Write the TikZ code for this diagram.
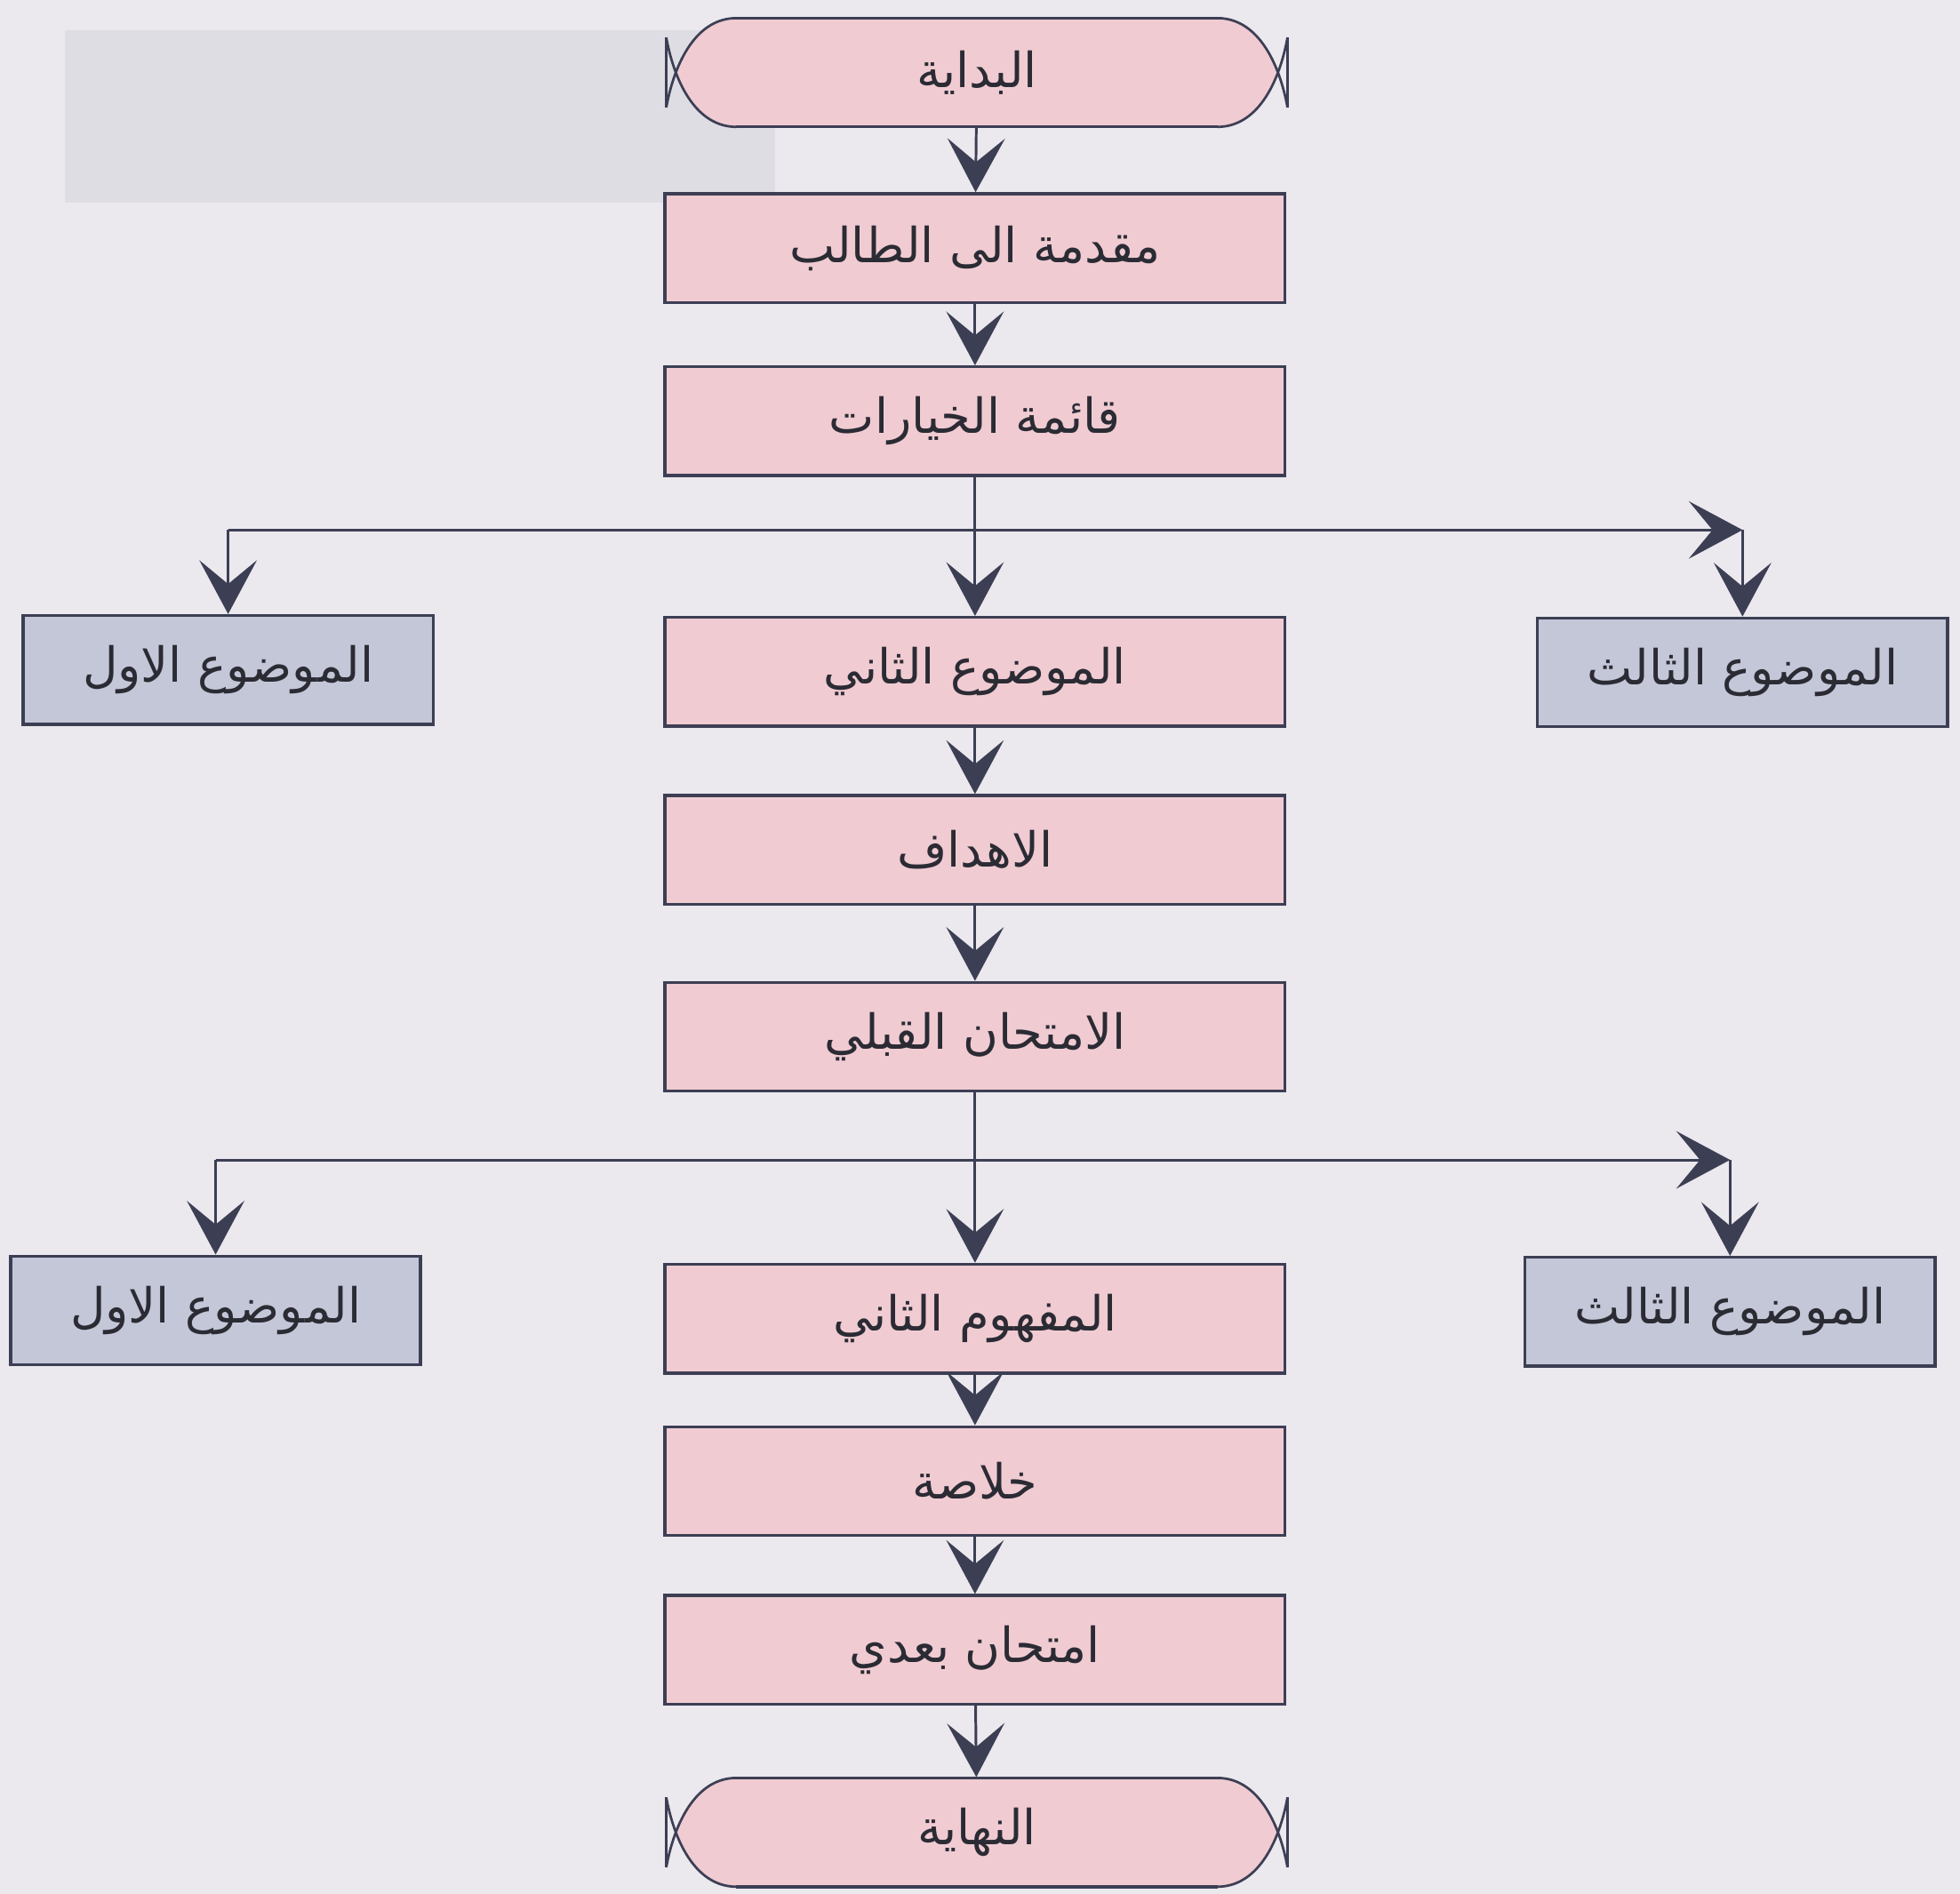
\documentclass[tikz,border=0pt]{standalone}
\usepackage{fontspec}
\newfontfamily\arabicfont[Script=Arabic]{DejaVu Sans}
\TeXXeTstate=1
\usetikzlibrary{arrows.meta}
\definecolor{paper}{RGB}{235, 232, 238}
\definecolor{smudge}{RGB}{223, 221, 228}
\definecolor{stepfill}{RGB}{240, 203, 210}
\definecolor{topicfill}{RGB}{196, 199, 216}
\definecolor{edge}{RGB}{60, 63, 84}
\definecolor{ink}{RGB}{43, 43, 52}
\newcommand{\artxt}[1]{{\arabicfont\beginR #1\endR}}

\tikzset{
    terminal/.pic={
        \fill[stepfill] (-1.925,0.435) -- (1.925,0.435)
            .. controls (2.155,0.435) and (2.314,0.25) .. (2.409,0)
            .. controls (2.314,-0.25) and (2.155,-0.435) .. (1.925,-0.435)
            -- (-1.925,-0.435)
            .. controls (-2.155,-0.435) and (-2.314,-0.25) .. (-2.409,0)
            .. controls (-2.314,0.25) and (-2.155,0.435) .. cycle;
        \draw[edge, line width=0.7pt]
            (-1.925,0.435) -- (1.925,0.435) (-1.925,-0.435) -- (1.925,-0.435);
        \foreach \s in {1,-1} {
            \draw[edge, line width=0.55pt, xscale=\s]
                (1.925,0.435) .. controls (2.235,0.435) and (2.415,0.1) .. (2.485,-0.28)
                (1.925,-0.435) .. controls (2.235,-0.435) and (2.415,-0.1) .. (2.485,0.28)
                (2.485,0.28) -- (2.485,-0.28);
        }
    },
}

\begin{document}
\begin{tikzpicture}[
    >={Stealth[length=4.3mm, width=4.6mm, inset=1.9mm]},
    font=\fontsize{11}{13}\selectfont,
    stepbox/.style={draw=edge, line width=0.7pt, fill=stepfill, text=ink,
        minimum width=4.96cm, minimum height=0.87cm, inner sep=0pt},
    topicbox/.style={stepbox, fill=topicfill, minimum width=3.28cm},
    termtext/.style={text=ink, minimum width=4.96cm, minimum height=0.87cm, inner sep=0pt},
    flow/.style={->, draw=edge, line width=0.6pt},
]

\def\colx{7.8}

% --- Paper ---
\fill[paper] (0,0) rectangle (15.68,-15.15);
\useasboundingbox (0,0) rectangle (15.68,-15.15);
\fill[smudge] (0.52,-0.24) rectangle (6.2,-1.62);

% --- Start / end ---
\pic at (7.815,-0.58) {terminal};
\node[termtext] (start) at (7.815,-0.58) {\artxt{البداية}};
\pic at (7.815,-14.66) {terminal};
\node[termtext] (finish) at (7.815,-14.66) {\artxt{النهاية}};

% --- Main column ---
\node[stepbox] (intro)    at (\colx,-1.985)  {\artxt{مقدمة الى الطالب}};
\node[stepbox] (menu)     at (\colx,-3.37)   {\artxt{قائمة الخيارات}};
\node[stepbox] (topicB)   at (\colx,-5.375)  {\artxt{الموضوع الثاني}};
\node[stepbox] (goals)    at (\colx,-6.80)   {\artxt{الاهداف}};
\node[stepbox] (pretest)  at (\colx,-8.295)  {\artxt{الامتحان القبلي}};
\node[stepbox] (conceptB) at (\colx,-10.55)  {\artxt{المفهوم الثاني}};
\node[stepbox] (summary)  at (\colx,-11.85)  {\artxt{خلاصة}};
\node[stepbox] (posttest) at (\colx,-13.20)  {\artxt{امتحان بعدي}};

% --- Side topics ---
\node[topicbox] (topicA)   at (1.825,-5.36)   {\artxt{الموضوع الاول}};
\node[topicbox] (topicC)   at (13.94,-5.38)   {\artxt{الموضوع الثالث}};
\node[topicbox] (conceptA) at (1.725,-10.485) {\artxt{الموضوع الاول}};
\node[topicbox] (conceptC) at (13.84,-10.495) {\artxt{الموضوع الثالث}};

% --- Straight flow ---
\draw[flow] (start) -- (intro);
\draw[flow] (intro) -- (menu);
\draw[flow] (menu) -- (topicB);
\draw[flow] (topicB) -- (goals);
\draw[flow] (goals) -- (pretest);
\draw[flow] (pretest) -- (conceptB);
\draw[flow] (conceptB) -- (summary);
\draw[flow] (summary) -- (posttest);
\draw[flow] (posttest) -- (finish);

% --- Branches ---
\coordinate (fork1) at (0,-4.24);
\coordinate (fork2) at (0,-9.28);
\draw[flow] (topicA |- fork1) -- (topicC |- fork1);
\draw[flow] (topicA |- fork1) -- (topicA);
\draw[flow] (topicC |- fork1) -- (topicC);
\draw[flow] (conceptA |- fork2) -- (conceptC |- fork2);
\draw[flow] (conceptA |- fork2) -- (conceptA);
\draw[flow] (conceptC |- fork2) -- (conceptC);

\end{tikzpicture}
\end{document}
